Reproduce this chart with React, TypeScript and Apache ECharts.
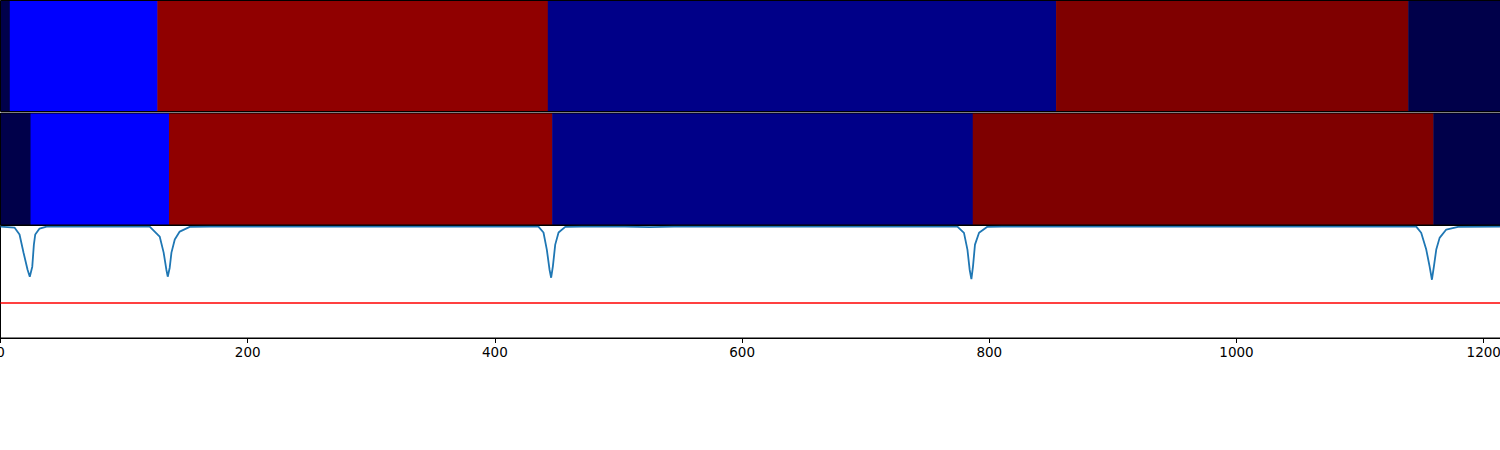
import React, { useEffect, useRef } from "react";
import * as echarts from "echarts";

// Segment boundaries (x positions) and state index for each segment
const topBounds = [0, 7.5, 126.9, 442.8, 854.0, 1138.9, 1216];
const topStates = [0, 1, 2, 3, 4, 0];
const midBounds = [0, 24.3, 136.3, 446.3, 786.6, 1159.2, 1216];
const midStates = [0, 1, 2, 3, 4, 0];
const statePalette = ["#00004a", "#0000ff", "#900000", "#000088", "#7f0000"];

// Bottom panel signal
const signal: [number, number][] = [
  [0, 0.99], [11.3, 0.982], [15.4, 0.92], [18.6, 0.76], [21.9, 0.607], [23.7, 0.545],
  [25.7, 0.634], [27, 0.83], [28.1, 0.92], [31.6, 0.973], [37.3, 0.99],
  [120.7, 0.99], [128.8, 0.902], [132, 0.759], [134.2, 0.607], [135.3, 0.545],
  [136.9, 0.625], [138.3, 0.759], [141, 0.875], [145, 0.946], [153.1, 0.988], [170, 0.99],
  [435.2, 0.99], [439.3, 0.9375], [442, 0.786], [444.2, 0.607], [445.5, 0.536],
  [446.9, 0.637], [448.8, 0.83], [451.5, 0.9375], [456.9, 0.988], [470, 0.99],
  [505, 0.99], [525, 0.985], [545, 0.99],
  [774.2, 0.99], [779.5, 0.935], [782.3, 0.786], [784.1, 0.607], [785.5, 0.524],
  [786.8, 0.637], [788.4, 0.83], [791.7, 0.935], [798.4, 0.988], [810, 0.99],
  [1145.4, 0.99], [1149.4, 0.935], [1153.5, 0.786], [1156.2, 0.637], [1158.1, 0.518],
  [1159.7, 0.637], [1161.6, 0.786], [1164.3, 0.89], [1169.7, 0.964], [1179.2, 0.988], [1216, 0.99],
];
const threshold = 0.31;
const xTicks = [0, 200, 400, 600, 800, 1000, 1200];
const X_MAX = 1216;

function segData(bounds: number[], states: number[]) {
  return states.map((s, i) => [bounds[i], bounds[i + 1], s]);
}

function renderSeg(params: any, api: any) {
  const p0 = api.coord([api.value(0), 0]);
  const p1 = api.coord([api.value(1), 1]);
  const cs = params.coordSys;
  return {
    type: "rect",
    shape: echarts.graphic.clipRectByRect(
      { x: p0[0], y: p1[1], width: p1[0] - p0[0] + 0.5, height: p0[1] - p1[1] },
      { x: cs.x, y: cs.y, width: cs.width, height: cs.height }
    ),
    style: { fill: statePalette[api.value(2)] },
  };
}

export default function App() {
  const ref = useRef<HTMLDivElement>(null);
  useEffect(() => {
    if (!ref.current) return;
    const chart = echarts.init(ref.current, null, { renderer: "svg" });
    const W = 1503;
    const hiddenX = (gi: number) => ({
      type: "value", gridIndex: gi, min: 0, max: X_MAX, show: false,
    });
    const hiddenY = (gi: number) => ({
      type: "value", gridIndex: gi, min: 0, max: 1, show: false,
    });
    const gridBase = {
      left: 0.5, width: W, show: true, borderColor: "#000", borderWidth: 1,
      backgroundColor: "transparent", containLabel: false, outerBoundsMode: "none",
    };
    chart.setOption({
      animation: false,
      backgroundColor: "#ffffff",
      grid: [
        { ...gridBase, top: 0.5, height: 111, z: 10 },
        { ...gridBase, top: 113, height: 112, z: 10 },
        { ...gridBase, top: 225.5, height: 112.5 },
      ],
      xAxis: [
        hiddenX(0),
        hiddenX(1),
        {
          type: "value", gridIndex: 2, min: 0, max: X_MAX, interval: 200,
          axisLine: { show: true, lineStyle: { color: "#000", width: 1 } },
          axisTick: { show: true, length: 5, lineStyle: { color: "#000" }, customValues: xTicks },
          axisLabel: {
            show: true, color: "#000", fontSize: 13.5, fontFamily: "DejaVu Sans", margin: 7,
            customValues: xTicks, formatter: (v: number) => String(v),
          },
          splitLine: { show: false },
        },
      ],
      yAxis: [hiddenY(0), hiddenY(1), hiddenY(2)],
      series: [
        { type: "custom", xAxisIndex: 0, yAxisIndex: 0, renderItem: renderSeg, data: segData(topBounds, topStates), silent: true },
        { type: "custom", xAxisIndex: 1, yAxisIndex: 1, renderItem: renderSeg, data: segData(midBounds, midStates), silent: true },
        {
          type: "line", xAxisIndex: 2, yAxisIndex: 2, data: signal, showSymbol: false,
          lineStyle: { color: "#1f77b4", width: 1.8 }, silent: true,
          markLine: {
            silent: true, symbol: ["none", "none"], label: { show: false },
            lineStyle: { color: "#ff0000", width: 1.5, type: "solid" },
            data: [{ yAxis: threshold }],
          },
        },
      ],
    });
    return () => chart.dispose();
  }, []);
  return (
    <div
      ref={ref}
      style={{ position: "fixed", left: 0, top: 0, width: 1500, height: 450, background: "#fff" }}
    />
  );
}
